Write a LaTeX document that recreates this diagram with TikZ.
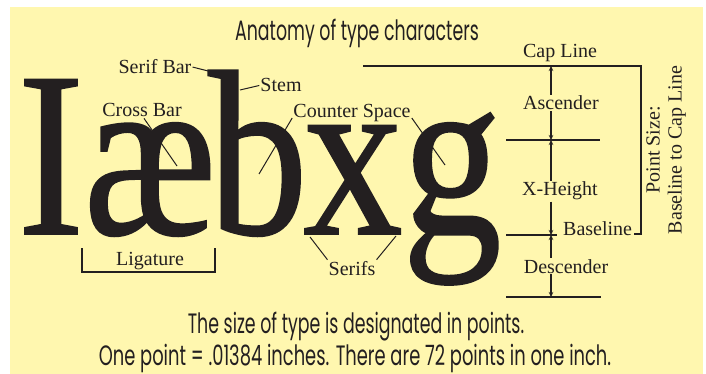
\documentclass[tikz,border=0pt]{standalone}
\usepackage{fontspec}
\setmainfont{Liberation Serif}
\newfontfamily\glyphfont[FakeStretch=0.84, FakeBold=0.8]{Liberation Serif}
\newfontfamily\headfont[FakeStretch=0.62]{Poppins}
\usetikzlibrary{arrows.meta}
\definecolor{paper}{HTML}{FFF7AF}
\definecolor{ink}{HTML}{231F20}

\begin{document}
\begin{tikzpicture}[x=1pt, y=1pt, >={Stealth[length=5pt,width=4.5pt]}]

  % Styles for labels, big glyphs and rules
  \tikzset{
    lbl/.style={font=\fontsize{20}{22}\selectfont, text=ink, inner sep=1pt, anchor=base},
    glyph/.style={font=\glyphfont\fontsize{236}{236}\selectfont, text=ink, inner sep=0pt, anchor=base},
    head/.style={font=\headfont\fontsize{28}{32}\selectfont, text=ink, inner sep=0pt, anchor=base},
    leader/.style={draw=ink, line width=1pt},
    guide/.style={draw=ink, line width=1.3pt},
    dim/.style={draw=ink, line width=1.2pt, ->}
  }

  % --- PAPER ---
  \useasboundingbox (0,0) rectangle (706,-374);
  \fill[white] (0,0) rectangle (706,-374);
  \fill[paper] (10,-7) rectangle (703,-374);

  % --- TITLE AND NOTES ---
  \node[head] (title) at (357,-41) {Anatomy of type characters};
  \node[head] (note1) at (356,-333) {The size of type is designated in points.};
  \node[head, xscale=1.03] (note2) at (355,-365) {One point = .01384 inches. There are 72 points in one inch.};

  % --- BIG GLYPHS ---
  \node[glyph] (capI) at (51,-234) {I};
  \node[glyph] (ae) at (150,-234) {æ};
  \node[glyph] (lb) at (258,-234) {b};
  \node[glyph] (lx) at (353,-234) {x};
  \node[glyph] (lg) at (452,-234) {g};

  % --- PART LABELS ---
  \node[lbl] (serifbar) at (155,-74) {Serif Bar};
  \node[lbl] (stem) at (281,-92) {Stem};
  \node[lbl] (crossbar) at (142,-117) {Cross Bar};
  \node[lbl] (counter) at (352,-118) {Counter Space};
  \node[lbl] (ligature) at (150,-265) {Ligature};
  \node[lbl] (serifs) at (352,-275) {Serifs};

  % Leader end points on the glyphs
  \coordinate (sbTip) at (224,-75);
  \coordinate (stTip) at (240,-90);
  \coordinate (cbTip) at (177,-166);
  \coordinate (cbTipB) at (259,-174);
  \coordinate (cgTip) at (445,-165);
  \coordinate (sfTipL) at (310,-237);
  \coordinate (sfTipR) at (396,-236);

  \draw[leader] (serifbar.east) -- (sbTip);
  \draw[leader] (stem.west) -- (stTip);
  \draw[leader] ([xshift=2pt]crossbar.south) -- (cbTip);
  \draw[leader] (counter.base west) -- (cbTipB);
  \draw[leader] (counter.base east) -- (cgTip);
  \draw[leader] (serifs.north west) -- (sfTipL);
  \draw[leader] (serifs.north east) -- (sfTipR);

  % Ligature bracket
  \draw[guide] (82,-248) |- (215,-272) -- (215,-248);

  % --- MEASURING LINES ---
  \node[lbl] (capline) at (560,-58) {Cap Line};
  \node[lbl] (ascender) at (561,-110) {Ascender};
  \node[lbl] (xheight) at (560,-196) {X-Height};
  \node[lbl, anchor=base west] (baseline) at (562,-235) {Baseline};
  \node[lbl] (descender) at (566,-273) {Descender};
  \node[lbl, anchor=center, rotate=90, align=center] (pointsize) at (666,-150)
    {Point Size:\\Baseline to Cap Line};

  \coordinate (capL) at (363,-66);
  \coordinate (capR) at (641,-66);
  \coordinate (capB) at (641,-234);
  \coordinate (capT) at (634,-234);
  \draw[guide] (capL) -- (capR) -- (capB) -- (capT);

  \draw[guide] (506,-140) -- (600,-140);
  \draw[guide] (506,-235) -- (557,-235);
  \draw[guide] (506,-297) -- (601,-297);

  % Arrows between the lines
  \coordinate (dCap) at (551,-66);
  \coordinate (dX) at (551,-140);
  \coordinate (dBase) at (551,-235);
  \coordinate (dDesc) at (551,-297);

  \draw[dim] (ascender.north -| dCap) -- (dCap);
  \draw[dim] (ascender.south -| dCap) -- (dX);
  \draw[dim] (xheight.north -| dCap) -- (dX);
  \draw[dim] (xheight.south -| dCap) -- (dBase);
  \draw[dim] (descender.north -| dCap) -- (dBase);
  \draw[dim] (descender.south -| dCap) -- (dDesc);

\end{tikzpicture}
\end{document}
